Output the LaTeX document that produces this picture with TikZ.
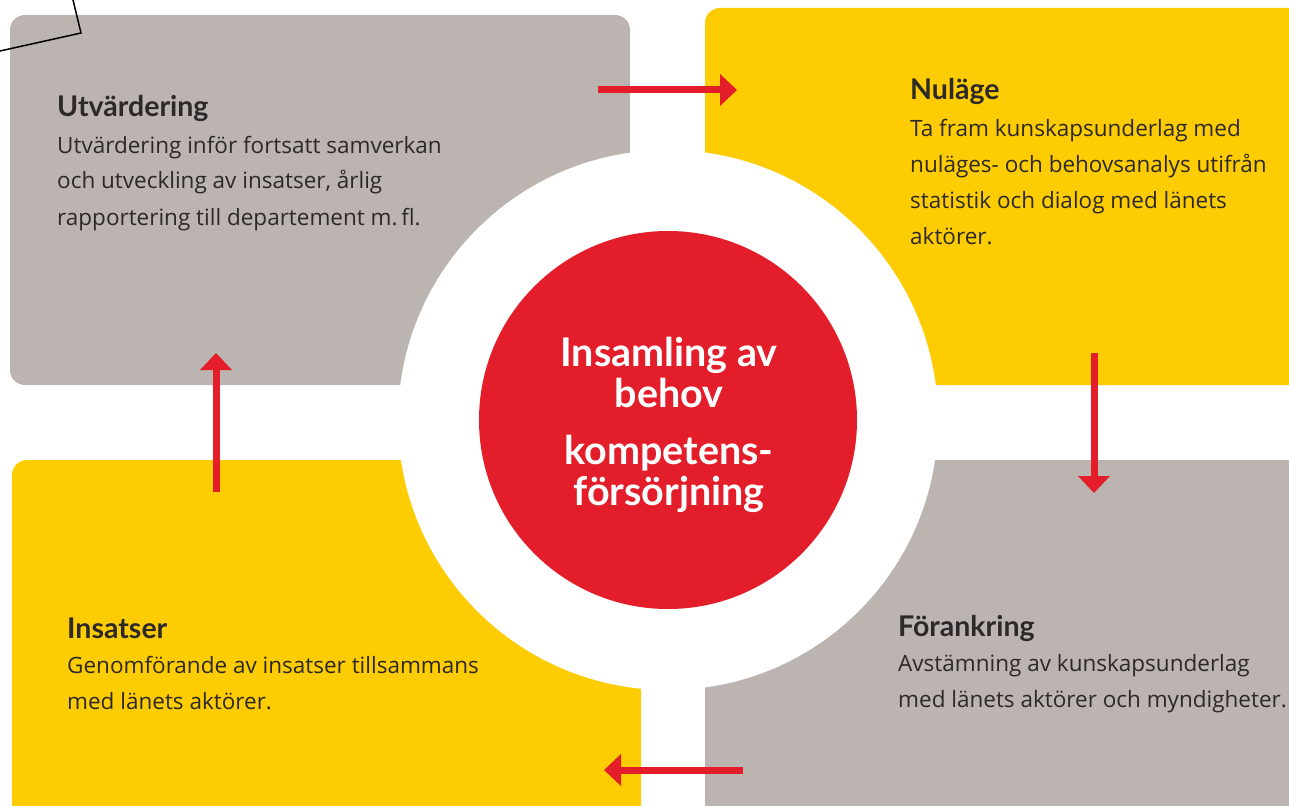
\documentclass[tikz,border=0pt]{standalone}
\usepackage{fontspec}
\setmainfont{Lato}
\newfontfamily\bodyfont{Open Sans}
\usetikzlibrary{arrows.meta}
\definecolor{cgray}{HTML}{BBB4B1}
\definecolor{cyellow}{HTML}{FECC03}
\definecolor{cred}{HTML}{E31E2A}
\definecolor{cink}{HTML}{2D2929}
\begin{document}
\begin{tikzpicture}[x=1pt,y=-1pt,
  quad/.style={rounded corners=15pt},
  headtxt/.style={anchor=base west, inner sep=0pt, text=cink, font=\fontsize{28.5}{36}\selectfont\bfseries},
  bodytxt/.style={anchor=base west, inner sep=0pt, align=left, text=cink, font=\bodyfont\fontsize{22.5}{36}\selectfont},
  flow/.style={draw=cred, line width=7pt, -{Triangle[length=17pt,width=31pt]}}]
\useasboundingbox (0,0) rectangle (1289,805);
\clip (0,0) rectangle (1289,805);
% quadrants
\fill[cgray, quad] (10,15) rectangle (630,385);
\fill[cyellow, quad] (705,8) rectangle (1330,385);
\fill[cyellow, quad] (12,460) rectangle (641,850);
\fill[cgray, quad] (705,460) rectangle (1330,850);
% stray black line
\draw[line width=1.5pt] (-5,52.1) -- (81,33) -- (71.8,-5);
% circles
\node[circle, fill=white, minimum size=540pt, inner sep=0pt] (ring) at (668,420) {};
\node[circle, fill=cred, minimum size=378pt, inner sep=0pt] (core) at (668,420) {};
\node[anchor=base, inner sep=0pt, align=center, text=white, font=\fontsize{39.5}{40.5}\selectfont\bfseries] (coretext) at (669,505)
  {Insamling av\\behov\\[17pt]kompetens-\\försörjning};
% texts (base anchor = baseline of last line)
\node[headtxt] (h1) at (57,116.7) {Utvärdering};
\node[bodytxt] (b1) at (57,225) {Utvärdering inför fortsatt samverkan\\och utveckling av insatser, årlig\\rapportering till departement m.\,fl.};
\node[headtxt] (h2) at (910,100) {Nuläge};
\node[bodytxt] (b2) at (910,244) {Ta fram kunskapsunderlag med\\nuläges- och behovsanalys utifrån\\statistik och dialog med länets\\aktörer.};
\node[headtxt] (h3) at (67,638) {Insatser};
\node[bodytxt] (b3) at (67,709) {Genomförande av insatser tillsammans\\med länets aktörer.};
\node[headtxt] (h4) at (898,636) {Förankring};
\node[bodytxt] (b4) at (898,707) {Avstämning av kunskapsunderlag\\med länets aktörer och myndigheter.};
% arrows
\coordinate (a1s) at (598,90);   \coordinate (a1e) at (737,90);
\coordinate (a2s) at (1094,353); \coordinate (a2e) at (1094,493);
\coordinate (a3s) at (743,770);  \coordinate (a3e) at (604,770);
\coordinate (a4s) at (216,492);  \coordinate (a4e) at (216,353);
\draw[flow] (a1s) -- (a1e);
\draw[flow] (a2s) -- (a2e);
\draw[flow] (a3s) -- (a3e);
\draw[flow] (a4s) -- (a4e);
\end{tikzpicture}
\end{document}
